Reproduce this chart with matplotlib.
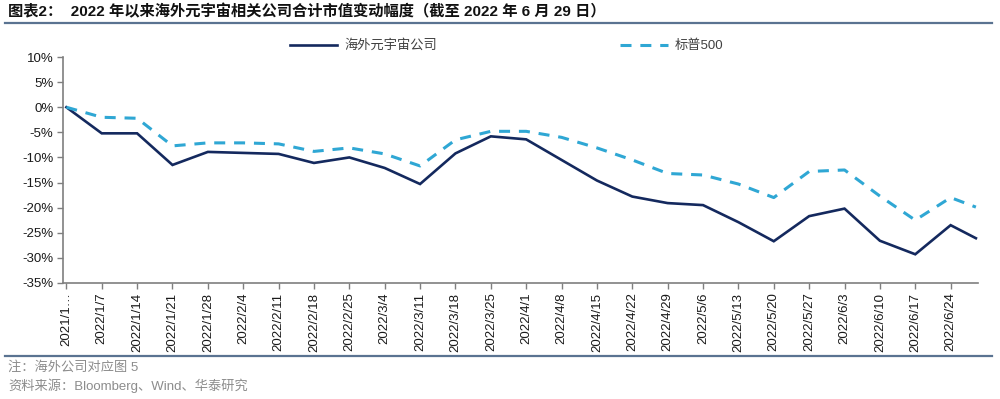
import pandas as pd
import matplotlib
matplotlib.use("Agg")
import matplotlib.pyplot as plt
from matplotlib.lines import Line2D

# weekly points since end of 2021, last point is 2022/6/29
dates = ["2021-12-31", "2022-01-07", "2022-01-14", "2022-01-21", "2022-01-28",
         "2022-02-04", "2022-02-11", "2022-02-18", "2022-02-25", "2022-03-04",
         "2022-03-11", "2022-03-18", "2022-03-25", "2022-04-01", "2022-04-08",
         "2022-04-15", "2022-04-22", "2022-04-29", "2022-05-06", "2022-05-13",
         "2022-05-20", "2022-05-27", "2022-06-03", "2022-06-10", "2022-06-17",
         "2022-06-24", "2022-06-29"]

metaverse = [0.0, -5.2, -5.2, -11.5, -8.9, -9.1, -9.3, -11.1, -10.0, -12.1,
             -15.3, -9.2, -5.8, -6.4, -10.5, -14.6, -17.8, -19.1, -19.5, -22.9,
             -26.7, -21.7, -20.2, -26.6, -29.3, -23.5, -26.1]

sp500 = [0.0, -2.0, -2.2, -7.7, -7.1, -7.1, -7.3, -8.8, -8.1, -9.3,
         -11.7, -6.5, -4.8, -4.8, -6.0, -8.1, -10.5, -13.2, -13.5, -15.3,
         -18.0, -12.8, -12.5, -17.7, -22.5, -18.0, -19.9]

tick_labels = ["2021/1…", "2022/1/7", "2022/1/14", "2022/1/21", "2022/1/28",
               "2022/2/4", "2022/2/11", "2022/2/18", "2022/2/25", "2022/3/4",
               "2022/3/11", "2022/3/18", "2022/3/25", "2022/4/1", "2022/4/8",
               "2022/4/15", "2022/4/22", "2022/4/29", "2022/5/6", "2022/5/13",
               "2022/5/20", "2022/5/27", "2022/6/3", "2022/6/10", "2022/6/17",
               "2022/6/24"]

y_ticks = [10, 5, 0, -5, -10, -15, -20, -25, -30, -35]

series_names = ["海外元宇宙公司", "标普500"]
title = "图表2：  2022 年以来海外元宇宙相关公司合计市值变动幅度（截至 2022 年 6 月 29 日）"
note1 = "注：海外公司对应图 5"
note2 = "资料来源：Bloomberg、Wind、华泰研究"

fonts = ["Liberation Sans", "Noto Sans CJK SC"]
plt.rcParams["font.family"] = fonts

navy = "#14295e"
light = "#2fa7d4"
axis_col = "#7f7f7f"
rule_col = "#5a7391"

x = pd.to_datetime(dates)
tick_x = x[:len(tick_labels)]

fig = plt.figure(figsize=(10, 3.99), dpi=100)
ax = fig.add_axes([0.063, 0.291, 0.915, 0.566])

l1, = ax.plot(x, metaverse, color=navy, lw=1.9, solid_joinstyle="miter")
l2, = ax.plot(x, sp500, color=light, lw=2.2, dashes=(3.6, 2.9),
              dash_capstyle="butt")

ax.set_ylim(-35, 10)
ax.set_yticks(y_ticks)
ax.set_yticklabels([f"{v}%" for v in y_ticks], fontsize=9.5, color="#1a1a1a")
ax.set_xlim(x[0] - pd.Timedelta(hours=16), x[-1] + pd.Timedelta(hours=10))
ax.set_xticks(tick_x)
ax.set_xticklabels(tick_labels, rotation=90, fontsize=9.5, color="#1a1a1a")
ax.tick_params(axis="both", direction="out", length=4, width=1, color=axis_col, pad=3)

for s in ["top", "right"]:
    ax.spines[s].set_visible(False)
for s in ["left", "bottom"]:
    ax.spines[s].set_color(axis_col)
    ax.spines[s].set_linewidth(1.2)

fig.legend([l1, l2], series_names, ncol=2, loc="center left",
           bbox_to_anchor=(0.278, 0.885), frameon=False, fontsize=9.5,
           handlelength=3.6, handletextpad=0.5, columnspacing=13.9,
           labelcolor="#404040")

fig.text(0.008, 0.97, title, fontsize=11, fontweight="bold", va="center",
         ha="left", color="#111111")
fig.add_artist(Line2D([0.005, 0.992], [0.943, 0.943], color=rule_col, lw=1.6))
fig.add_artist(Line2D([0.005, 0.992], [0.108, 0.108], color=rule_col, lw=1.6))

fig.text(0.008, 0.079, note1, fontsize=9.5, color="#8c8c8c", va="center")
fig.text(0.008, 0.032, note2, fontsize=9.5, color="#8c8c8c", va="center")

fig.savefig("out.png", dpi=100)
